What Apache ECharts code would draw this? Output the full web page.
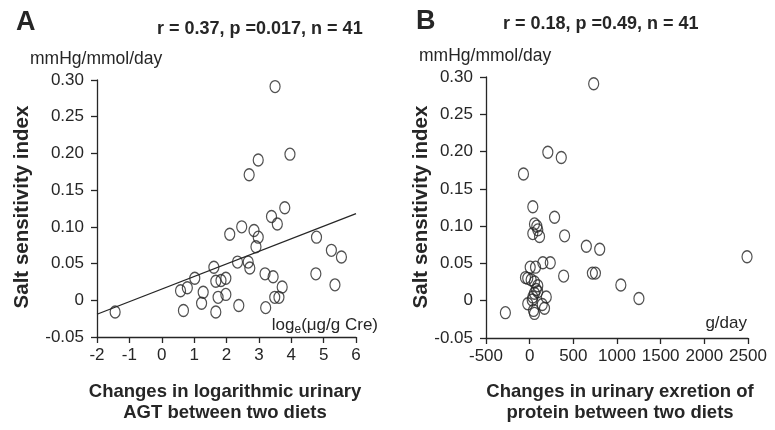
<!DOCTYPE html>
<html>
<head>
<meta charset="utf-8">
<script src="https://cdn.jsdelivr.net/npm/echarts@6/dist/echarts.min.js"></script>
<style>html,body{margin:0;padding:0;background:#fff;}#c{width:775px;height:430px;}</style>
</head>
<body>
<div id="c"></div>
<script>
// Panel A: change in log urinary AGT vs salt sensitivity index
var agtX = [-1.44, 3.80, 3.39, 3.57, 2.10, 2.47, 2.85, 2.98, 2.91, 4.78, 5.24, 5.55, 1.61, 2.34, 2.67, 2.72, 3.19, 3.44, 3.72, 3.49, 3.62, 4.76, 5.35, 1.02, 0.79, 0.58, 1.67, 1.83, 1.98, 1.28, 1.74, 1.98, 1.23, 0.67, 1.67, 2.38, 3.21, 3.50, 2.98, 3.96, 2.70];
var agtY = [-0.016, 0.126, 0.114, 0.104, 0.090, 0.100, 0.095, 0.086, 0.073, 0.086, 0.068, 0.059, 0.045, 0.052, 0.052, 0.044, 0.036, 0.032, 0.018, 0.004, 0.004, 0.036, 0.021, 0.030, 0.017, 0.013, 0.026, 0.027, 0.030, 0.011, 0.004, 0.008, -0.004, -0.014, -0.016, -0.007, -0.010, 0.291, 0.191, 0.199, 0.171];
var fitAX = [-2, 6];
var fitAY = [-0.019, 0.118];

// Panel B: change in urinary protein excretion vs salt sensitivity index
var protX = [-278, 36, 285, 55, 82, 93, 36, 113, 400, 649, 802, 2489, 6, 67, 151, 236, 389, 718, 753, 1044, 1251, -48, -22, 17, 55, 93, 75, 55, 36, 190, -22, 144, 170, 44, 55, 93, 733, 208, 362, -71, 29];
var protY = [-0.016, 0.126, 0.112, 0.103, 0.100, 0.095, 0.090, 0.086, 0.087, 0.073, 0.069, 0.059, 0.045, 0.045, 0.051, 0.051, 0.033, 0.037, 0.037, 0.021, 0.003, 0.031, 0.030, 0.028, 0.025, 0.020, 0.015, 0.010, 0.005, 0.005, -0.004, -0.005, -0.010, -0.013, -0.017, 0.012, 0.291, 0.199, 0.192, 0.170, 0.001];

var yTicks = {min: -0.05, max: 0.30, interval: 0.05};
var xTicksA = {min: -2, max: 6, interval: 1};
var xTicksB = {min: -500, max: 2500, interval: 500};

var titleA = 'r = 0.37, p =0.017, n = 41';
var titleB = 'r = 0.18, p =0.49, n = 41';
var yName = 'Salt sensitivity index';
var yUnit = 'mmHg/mmol/day';
var xNameA = ['Changes in logarithmic urinary', 'AGT between two diets'];
var xNameB = ['Changes in urinary exretion of', 'protein between two diets'];

function zip(a, b) { return a.map(function (v, i) { return [v, b[i]]; }); }

var ink = '#262626';
var font = "'Liberation Sans', Arial, sans-serif";

function xAxis(idx, t) {
  return {
    type: 'value', gridIndex: idx, min: t.min, max: t.max, interval: t.interval,
    splitLine: {show: false},
    axisLine: {show: true, onZero: false, lineStyle: {color: ink, width: 1.3}},
    axisTick: {show: true, length: 6, lineStyle: {color: ink, width: 1.3}},
    axisLabel: {color: ink, fontSize: 17, fontFamily: font, margin: 10,
      formatter: function (v) { return String(v); }}
  };
}
function yAxis(idx) {
  return {
    type: 'value', gridIndex: idx, min: yTicks.min, max: yTicks.max, interval: yTicks.interval,
    splitLine: {show: false},
    axisLine: {show: true, onZero: false, lineStyle: {color: ink, width: 1.3}},
    axisTick: {show: true, length: 6, lineStyle: {color: ink, width: 1.3}},
    axisLabel: {color: ink, fontSize: 17, fontFamily: font, margin: 13,
      formatter: function (v) { return Math.abs(v) < 1e-9 ? '0' : v.toFixed(2); }}
  };
}
function scatter(idx, x, y) {
  return {
    type: 'scatter', xAxisIndex: idx, yAxisIndex: idx, data: zip(x, y),
    symbol: 'circle', symbolSize: [10, 12],
    itemStyle: {color: 'rgba(0,0,0,0)', borderColor: ink, borderWidth: 1.3},
    silent: true
  };
}

var chart = echarts.init(document.getElementById('c'), null, {renderer: 'canvas'});
chart.setOption({
  backgroundColor: '#fff',
  animation: false,
  grid: [
    {left: 97, right: 419, top: 80, bottom: 93},
    {left: 486, right: 27, top: 77, bottom: 92}
  ],
  xAxis: [xAxis(0, xTicksA), xAxis(1, xTicksB)],
  yAxis: [yAxis(0), yAxis(1)],
  series: [
    scatter(0, agtX, agtY),
    {type: 'line', xAxisIndex: 0, yAxisIndex: 0, data: zip(fitAX, fitAY), symbol: 'none',
      lineStyle: {color: ink, width: 1.3}, silent: true},
    scatter(1, protX, protY)
  ],
  graphic: [
    {type: 'text', left: 16, top: 9, style: {text: 'A', font: 'bold 27px ' + font, fill: ink}},
    {type: 'text', left: 416, top: 8, style: {text: 'B', font: 'bold 27px ' + font, fill: ink}},
    {type: 'text', left: 157, top: 20, style: {text: titleA, font: 'bold 18px ' + font, fill: ink}},
    {type: 'text', left: 503, top: 15, style: {text: titleB, font: 'bold 18px ' + font, fill: ink}},
    {type: 'text', left: 30, top: 50, style: {text: yUnit, font: '17.5px ' + font, fill: ink}},
    {type: 'text', left: 419, top: 47, style: {text: yUnit, font: '17.5px ' + font, fill: ink}},
    {type: 'text', x: 22, y: 207, rotation: Math.PI / 2,
      style: {text: yName, font: 'bold 20.5px ' + font, fill: ink, textAlign: 'center', textVerticalAlign: 'middle'}},
    {type: 'text', x: 421, y: 207, rotation: Math.PI / 2,
      style: {text: yName, font: 'bold 20.5px ' + font, fill: ink, textAlign: 'center', textVerticalAlign: 'middle'}},
    {type: 'text', x: 225, y: 392,
      style: {text: xNameA[0], font: 'bold 18.5px ' + font, fill: ink, textAlign: 'center', textVerticalAlign: 'middle'}},
    {type: 'text', x: 225, y: 413,
      style: {text: xNameA[1], font: 'bold 18.5px ' + font, fill: ink, textAlign: 'center', textVerticalAlign: 'middle'}},
    {type: 'text', x: 620, y: 392,
      style: {text: xNameB[0], font: 'bold 18.5px ' + font, fill: ink, textAlign: 'center', textVerticalAlign: 'middle'}},
    {type: 'text', x: 620, y: 413,
      style: {text: xNameB[1], font: 'bold 18.5px ' + font, fill: ink, textAlign: 'center', textVerticalAlign: 'middle'}},
    {type: 'text', x: 378, y: 325,
      style: {text: '{m|log}{s|e}{m|(μg/g Cre)}', textAlign: 'right', textVerticalAlign: 'middle',
        rich: {m: {font: '17px ' + font, fill: ink, color: ink}, s: {font: '12px ' + font, fill: ink, color: ink, padding: [10, 0, 0, 0]}}}},
    {type: 'text', x: 747, y: 323,
      style: {text: 'g/day', font: '17px ' + font, fill: ink, textAlign: 'right', textVerticalAlign: 'middle'}}
  ]
});
</script>
</body>
</html>
